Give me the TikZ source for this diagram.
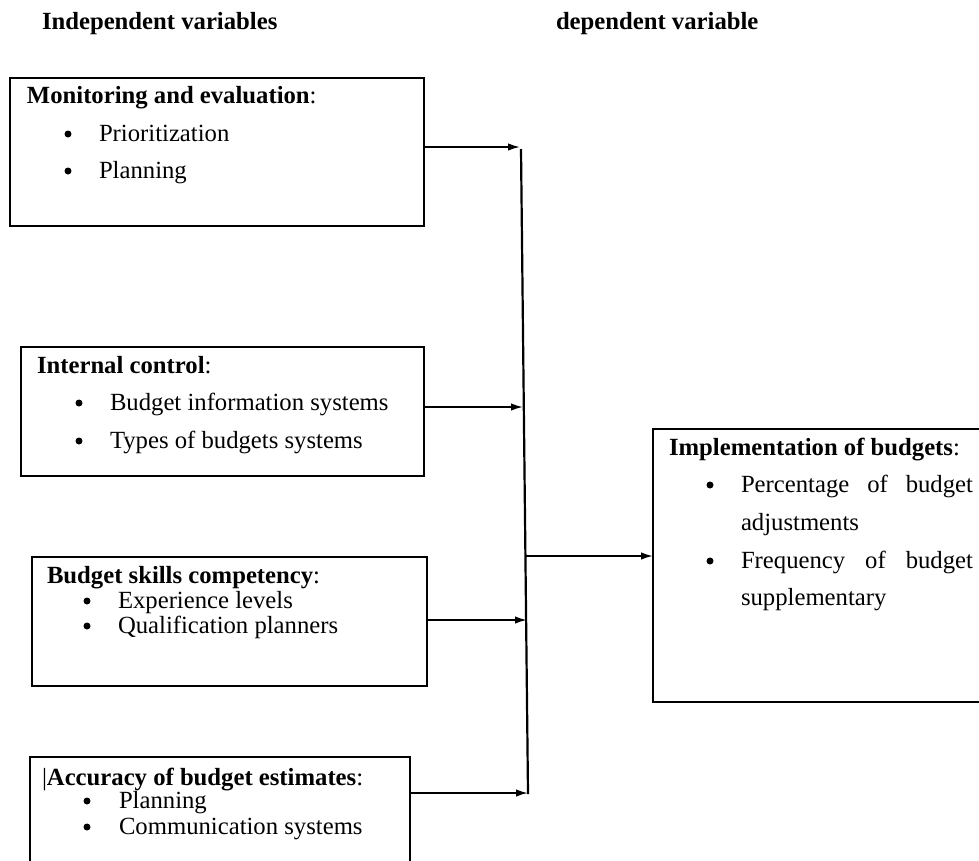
\documentclass[tikz,border=0pt]{standalone}
\usepackage{fontspec}
\setmainfont{Liberation Serif}
\usetikzlibrary{arrows.meta}
\tikzset{
  box/.style={draw, line width=2pt, rectangle, inner sep=0pt, outer sep=0pt, anchor=north west},
  txt/.style={anchor=base west, inner sep=0pt, outer sep=0pt, font=\fontsize{24.7}{30}\selectfont},
  hdr/.style={txt, font=\fontsize{24.7}{30}\selectfont\bfseries},
  bul/.style={circle, fill=black, inner sep=0pt, minimum size=7pt},
  conn/.style={line width=1.8pt, -{Latex[length=12pt,width=7.5pt]}},
  trunk/.style={line width=2.2pt},
}
\begin{document}
\begin{tikzpicture}[x=1pt,y=-1pt]
\useasboundingbox (0,0) rectangle (979,860);
\clip (0,0) rectangle (979,860);

% headers
\node[hdr] (hind) at (42,29) {Independent variables};
\node[hdr] (hdep) at (556,29) {dependent variable};

% boxes
\node[box, minimum width=414pt, minimum height=148pt] (b1) at (10,78) {};
\node[box, minimum width=403pt, minimum height=129pt] (b2) at (21,347) {};
\node[box, minimum width=395pt, minimum height=129pt] (b3) at (32,557) {};
\node[box, minimum width=380pt, minimum height=130pt] (b4) at (30,757) {};
\node[box, minimum width=340pt, minimum height=273pt] (b5) at (653,429) {};

% box 1 text
\node[txt] (t1) at (27,103) {\textbf{Monitoring and evaluation}:};
\node[bul] (d11) at (68,134) {};
\node[txt] (i11) at (99,141) {Prioritization};
\node[bul] (d12) at (68,171) {};
\node[txt] (i12) at (99,178) {Planning};

% box 2 text
\node[txt] (t2) at (37,373) {\textbf{Internal control}:};
\node[bul] (d21) at (79,403) {};
\node[txt] (i21) at (110,410) {Budget information systems};
\node[bul] (d22) at (79,441) {};
\node[txt] (i22) at (110,448) {Types of budgets systems};

% box 3 text
\node[txt] (t3) at (47,583) {\textbf{Budget skills competency}:};
\node[bul] (d31) at (87,601) {};
\node[txt] (i31) at (118,608) {Experience levels};
\node[bul] (d32) at (87,626) {};
\node[txt] (i32) at (118,633) {Qualification planners};

% box 4 text
\node[txt] (t4) at (42,785) {|\textbf{Accuracy of budget estimates}:};
\node[bul] (d41) at (87,801) {};
\node[txt] (i41) at (119,808) {Planning};
\node[bul] (d42) at (87,827) {};
\node[txt] (i42) at (119,834) {Communication systems};

% box 5 text
\node[txt] (t5) at (669,455) {\textbf{Implementation of budgets}:};
\node[bul] (d51) at (710,485) {};
\node[txt] (i51) at (741,492) {\makebox[232pt][s]{Percentage of budget}};
\node[txt] (i52) at (741,530) {adjustments};
\node[bul] (d53) at (710,561) {};
\node[txt] (i53) at (741,568) {\makebox[232pt][s]{Frequency of budget}};
\node[txt] (i54) at (741,605) {supplementary};

% trunk line
\coordinate (vtop) at (521,149);
\coordinate (vbot) at (528,794);
\draw[trunk] (vtop) -- (vbot);

% arrow ends on the trunk
\coordinate (a1) at (520,147);
\coordinate (a2) at (523,407);
\coordinate (a3) at (527,620);
\coordinate (a4) at (528,793);
\coordinate (ao) at (526,556);

\draw[conn] (b1.east |- a1) -- (a1);
\draw[conn] (b2.east |- a2) -- (a2);
\draw[conn] (b3.east |- a3) -- (a3);
\draw[conn] (b4.east |- a4) -- (a4);
\draw[conn] (ao) -- (ao -| b5.west);
\end{tikzpicture}
\end{document}
